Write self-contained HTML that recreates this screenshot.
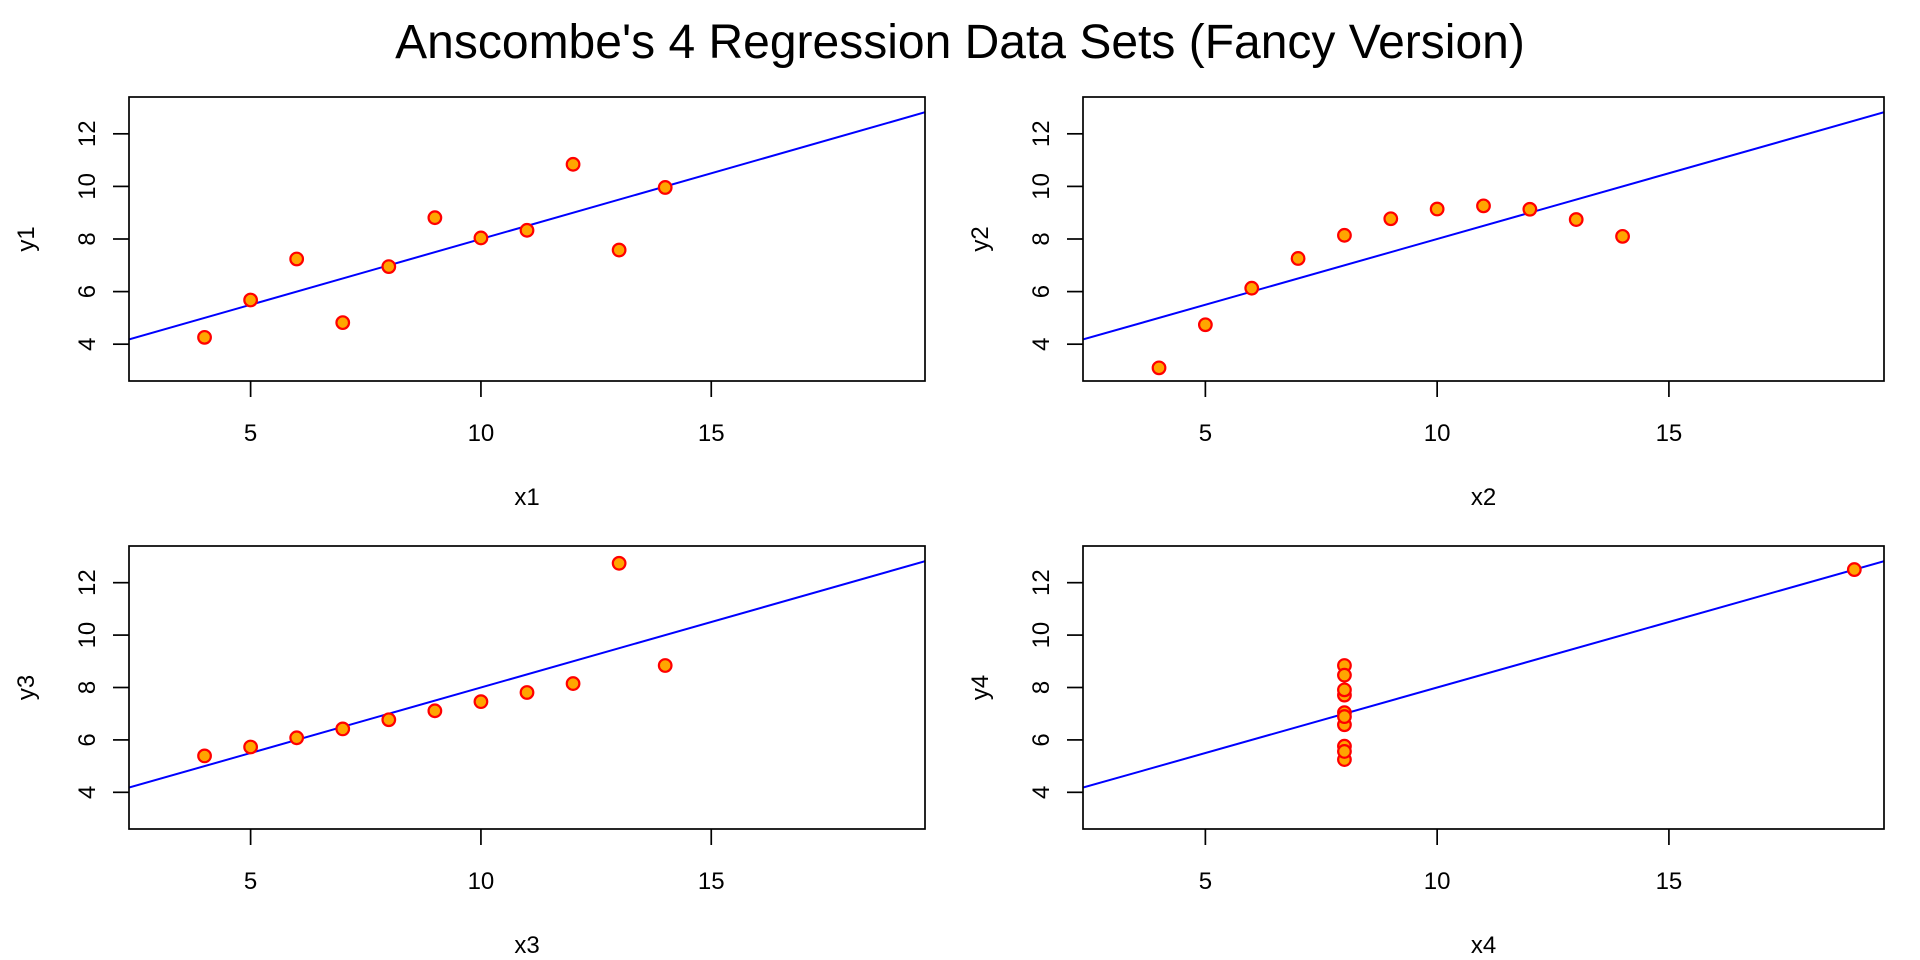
<!DOCTYPE html>
<html><head><meta charset="utf-8"><style>
html,body{margin:0;padding:0;background:#fff;}
svg{display:block;font-family:"Liberation Sans",Arial,sans-serif;}
</style></head><body>
<svg id="chart" width="1920" height="960" viewBox="0 0 1920 960">
<text x="960" y="58" text-anchor="middle" font-size="48">Anscombe's 4 Regression Data Sets (Fancy Version)</text>
</svg>
<script>
const x1=[10,8,13,9,11,14,6,4,12,7,5];
const y1=[8.04,6.95,7.58,8.81,8.33,9.96,7.24,4.26,10.84,4.82,5.68];
const x2=[10,8,13,9,11,14,6,4,12,7,5];
const y2=[9.14,8.14,8.74,8.77,9.26,8.10,6.13,3.10,9.13,7.26,4.74];
const x3=[10,8,13,9,11,14,6,4,12,7,5];
const y3=[7.46,6.77,12.74,7.11,7.81,8.84,6.08,5.39,8.15,6.42,5.73];
const x4=[8,8,8,8,8,8,8,19,8,8,8];
const y4=[6.58,5.76,7.71,8.84,8.47,7.04,5.25,12.50,5.56,7.91,6.89];
const xTicks=[5,10,15];
const yTicks=[4,6,8,10,12];
const fitIntercept=[3.0,3.0,3.0,3.0];
const fitSlope=[0.5,0.5,0.5,0.5];

const NS="http://www.w3.org/2000/svg";
const svg=document.getElementById('chart');
const panels=[
 {xs:x1,ys:y1,n:1,L:129,R:925,T:97,B:381},
 {xs:x2,ys:y2,n:2,L:1083,R:1884,T:97,B:381},
 {xs:x3,ys:y3,n:3,L:129,R:925,T:546,B:829},
 {xs:x4,ys:y4,n:4,L:1083,R:1884,T:546,B:829}
];
const xmin=2.36,xmax=19.64,ymin=2.6,ymax=13.4;
function mk(tag,attrs,parent){const e=document.createElementNS(NS,tag);for(const k in attrs)e.setAttribute(k,attrs[k]);(parent||svg).appendChild(e);return e;}
panels.forEach((p,i)=>{
 const sx=v=>p.L+(v-xmin)/(xmax-xmin)*(p.R-p.L);
 const sy=v=>p.B-(v-ymin)/(ymax-ymin)*(p.B-p.T);
 const g=mk('g',{});
 
 
 const cid='clip'+p.n;
 const cp=mk('clipPath',{id:cid},g);mk('rect',{x:p.L,y:p.T,width:p.R-p.L,height:p.B-p.T},cp);
 const a=fitIntercept[i],b=fitSlope[i];
 const ln=mk('line',{x1:sx(xmin),y1:sy(a+b*xmin),x2:sx(xmax),y2:sy(a+b*xmax),stroke:'#0000ff','stroke-width':2,'clip-path':'url(#'+cid+')'},g);
 
 
 p.xs.forEach((xv,j)=>{
  const c=mk('circle',{cx:sx(xv),cy:sy(p.ys[j]),r:6.3,fill:'#ffa500',stroke:'#ff0000','stroke-width':2.2},g);
  
  
 });
 const box=mk('rect',{x:p.L,y:p.T,width:p.R-p.L,height:p.B-p.T,fill:'none',stroke:'#000','stroke-width':1.7},g);
 
 
 xTicks.forEach(t=>{
  mk('line',{x1:sx(t),y1:p.B,x2:sx(t),y2:p.B+16,stroke:'#000','stroke-width':1.7},g);
  const tx=mk('text',{x:sx(t),y:p.B+60,'text-anchor':'middle','font-size':24},g);
  tx.textContent=t;
  
  
 });
 yTicks.forEach(t=>{
  mk('line',{x1:p.L,y1:sy(t),x2:p.L-16,y2:sy(t),stroke:'#000','stroke-width':1.7},g);
  const tx=mk('text',{x:0,y:0,'text-anchor':'middle','font-size':24,transform:'translate('+(p.L-42)+','+sy(t)+') rotate(-90) translate(0,8)'},g);
  tx.textContent=t;
  
  
 });
 const xt=mk('text',{x:(p.L+p.R)/2,y:p.B+124,'text-anchor':'middle','font-size':24},g);
 xt.textContent='x'+p.n;
 
 
 const yt=mk('text',{x:0,y:0,'text-anchor':'middle','font-size':24,transform:'translate('+(p.L-103)+','+((p.T+p.B)/2)+') rotate(-90) translate(0,8)'},g);
 yt.textContent='y'+p.n;
 
 
});
</script>
</body></html>
